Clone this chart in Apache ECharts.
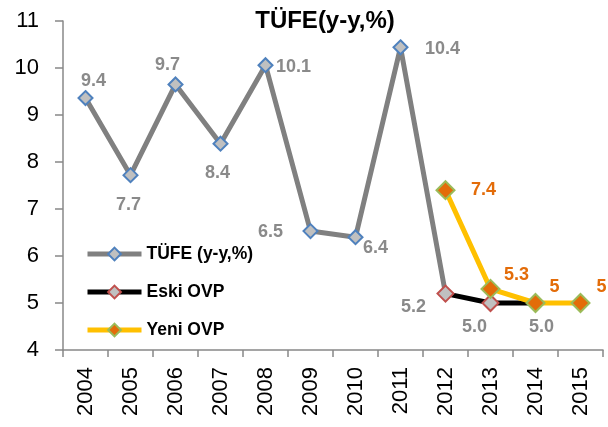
<!DOCTYPE html>
<html>
<head>
<meta charset="utf-8">
<script src="https://cdn.jsdelivr.net/npm/echarts@6/dist/echarts.min.js"></script>
<style>
  html, body { margin: 0; padding: 0; background: #fff; }
  #chart { width: 608px; height: 427px; }
</style>
</head>
<body>
<div id="chart"></div>
<script>
// data
var years = ['2004', '2005', '2006', '2007', '2008', '2009', '2010', '2011', '2012', '2013', '2014', '2015'];
var tufe = [9.36, 7.72, 9.65, 8.39, 10.06, 6.53, 6.40, 10.44, 5.2, null, null, null];
var eskiOvp = [null, null, null, null, null, null, null, null, 5.2, 5.0, 5.0, null];
var yeniOvp = [null, null, null, null, null, null, null, null, 7.4, 5.3, 5, 5];

// label offsets (px from the marker centre)
var tufeOffsets = [[8, -17], [-2, 30], [-8, -19], [-3, 29], [28, 2], [-40, 1], [20, 11], [42, 2], null];
var eskiOffsets = { 8: [-32, 13], 9: [-16, 24], 10: [6, 24] };
var yeniOffsets = { 8: [38, 0], 9: [26, -14], 10: [19, -16], 11: [21, -16] };

var grayLabel = { color: '#8a8a8a', fontWeight: 'bold', fontSize: 18, fontFamily: 'Liberation Sans' };
var orangeLabel = { color: '#e36c09', fontWeight: 'bold', fontSize: 18, fontFamily: 'Liberation Sans' };

function withLabels(values, offsets, style, fmt) {
    return values.map(function (v, i) {
        if (v === null) return null;
        var off = offsets[i];
        if (!off) return { value: v, label: { show: false } };
        return {
            value: v,
            label: Object.assign({ show: true, position: 'inside', offset: off, formatter: fmt }, style)
        };
    });
}

var chart = echarts.init(document.getElementById('chart'), null, { renderer: 'canvas' });

chart.setOption({
    animation: false,
    backgroundColor: '#fff',
    title: {
        text: 'TÜFE(y-y,%)',
        left: 320,
        textAlign: 'center',
        top: 4,
        textStyle: { fontSize: 24, fontWeight: 'bold', color: '#000', fontFamily: 'Liberation Sans' }
    },
    legend: {
        orient: 'vertical',
        left: 80,
        top: 240,
        itemWidth: 54,
        itemHeight: 16,
        itemGap: 20,
        lineStyle: { width: 5 },
        textStyle: { fontSize: 17.5, fontWeight: 'bold', color: '#000', fontFamily: 'Liberation Sans' },
        data: ['TÜFE (y-y,%)', 'Eski OVP', 'Yeni OVP']
    },
    grid: { left: 63, right: 5, top: 21, bottom: 77 },
    xAxis: {
        type: 'category',
        data: years,
        boundaryGap: true,
        axisLine: { lineStyle: { color: '#888', width: 1.5 } },
        axisTick: { show: true, length: 7, lineStyle: { color: '#888', width: 1.5 } },
        axisLabel: { rotate: 90, margin: 17, fontSize: 22, color: '#000', fontFamily: 'Liberation Sans' }
    },
    yAxis: {
        type: 'value',
        min: 4,
        max: 11,
        interval: 1,
        splitLine: { show: false },
        axisLine: { show: true, lineStyle: { color: '#888', width: 1.5 } },
        axisTick: { show: true, length: 8, lineStyle: { color: '#888', width: 1.5 } },
        axisLabel: { margin: 24, fontSize: 22, color: '#000', fontFamily: 'Liberation Sans' }
    },
    series: [
        {
            name: 'TÜFE (y-y,%)',
            type: 'line',
            data: withLabels(tufe, tufeOffsets, grayLabel, function (p) { return p.value.toFixed(1); }),
            symbol: 'diamond',
            symbolSize: 14,
            lineStyle: { color: '#808080', width: 5 },
            itemStyle: { color: '#c0c0c0', borderColor: '#4f81bd', borderWidth: 2 },
            z: 2
        },
        {
            name: 'Eski OVP',
            type: 'line',
            data: withLabels(eskiOvp, eskiOffsets, grayLabel, function (p) { return p.value.toFixed(1); }),
            symbol: 'diamond',
            symbolSize: 16,
            lineStyle: { color: '#000', width: 5 },
            itemStyle: { color: '#c0c0c0', borderColor: '#c0504d', borderWidth: 2 },
            z: 3
        },
        {
            name: 'Yeni OVP',
            type: 'line',
            data: withLabels(yeniOvp, yeniOffsets, orangeLabel, function (p) { return String(p.value); }),
            symbol: 'diamond',
            symbolSize: 18,
            lineStyle: { color: '#ffc000', width: 5 },
            itemStyle: { color: '#e36c09', borderColor: '#9bbb59', borderWidth: 2 },
            z: 4
        }
    ]
});
</script>
</body>
</html>
